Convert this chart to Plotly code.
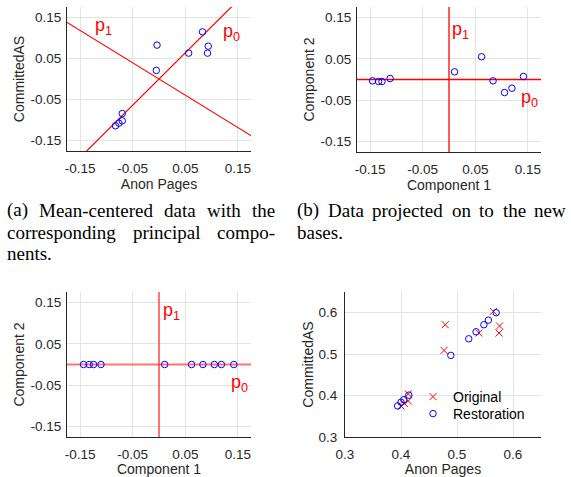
import plotly.graph_objects as go

W, H = 571, 477

# ---------------- data ----------------
# (a) mean-centered data
a_anon = [0.0827, -0.0038, 0.0564, 0.0936, 0.0923, -0.0051, -0.0699, -0.0699, -0.0763, -0.0827]
a_comm = [0.1145, 0.0823, 0.0629, 0.0798, 0.0629, 0.0210, -0.0839, -0.1016, -0.1073, -0.1137]
# principal component directions
pc0 = [0.618, 0.786]
pc1 = [-0.786, 0.618]
line_t = [-0.5, 0.5]

# (b) data projected on the new bases
b_comp1 = [-0.1455, -0.1340, -0.1275, -0.1120, 0.0106, 0.0620, 0.0838, 0.1056, 0.1197, 0.1416]
b_comp2 = [-0.0032, -0.0048, -0.0048, 0.0024, 0.0185, 0.0548, -0.0032, -0.0315, -0.0210, 0.0073]
basis0 = [1.0, 0.0]
basis1 = [0.0, 1.0]

# (c) projection onto first component only
c_comp1 = [-0.1436, -0.1328, -0.1245, -0.1104, 0.0108, 0.0619, 0.0836, 0.1053, 0.1187, 0.1423]
c_comp2 = [0, 0, 0, 0, 0, 0, 0, 0, 0, 0]

# (d) original vs restoration
d_orig_anon = [0.565, 0.479, 0.539, 0.576, 0.575, 0.477, 0.413, 0.413, 0.406, 0.400]
d_orig_comm = [0.603, 0.571, 0.551, 0.568, 0.551, 0.509, 0.404, 0.387, 0.381, 0.375]
d_rest_anon = [0.394, 0.400, 0.405, 0.414, 0.489, 0.521, 0.534, 0.548, 0.556, 0.570]
d_rest_comm = [0.375, 0.384, 0.390, 0.401, 0.497, 0.537, 0.554, 0.571, 0.582, 0.600]

pca_ticks = [-0.15, -0.05, 0.05, 0.15]
pca_ticktext = ["-0.15", "-0.05", "0.05", "0.15"]
d_ticks = [0.3, 0.4, 0.5, 0.6]
d_ticktext = ["0.3", "0.4", "0.5", "0.6"]

caption_a = [["(a)", "Mean-centered", "data", "with", "the"],
             ["corresponding", "principal", "compo-"],
             ["nents."]]
caption_b = [["(b)", "Data", "projected", "on", "to", "the", "new"],
             ["bases."]]

# ---------------- styling ----------------
TXT = "#262626"
GRID = "#e3e3e3"
SANS = "Liberation Sans, Arial, sans-serif"
SERIF = "Liberation Serif, Times New Roman, serif"
BLUE = "#0000ff"
RED = "rgb(255,0,0)"


def px_x(p):
    return p / W


def px_y(p):
    return 1 - p / H


fig = go.Figure()


def seg(vec, t):
    return [ti * vec[0] for ti in t], [ti * vec[1] for ti in t]


def add_line(vec, ax, color, width):
    xs, ys = seg(vec, line_t)
    fig.add_trace(go.Scatter(x=xs, y=ys, mode="lines", line=dict(color=color, width=width),
                             xaxis="x" + ax, yaxis="y" + ax, showlegend=False, hoverinfo="skip"))


def circles(x, y, ax, name=None, legend=None):
    fig.add_trace(go.Scatter(x=x, y=y, mode="markers", name=name, showlegend=legend is not None,
                             legend=legend if legend else "legend",
                             marker=dict(symbol="circle-open", size=6.5, color=BLUE,
                                         line=dict(width=1, color=BLUE)),
                             xaxis="x" + ax, yaxis="y" + ax, hoverinfo="skip"))


# (a)
add_line(pc1, "", RED, 1.2)
add_line(pc0, "", RED, 1.2)
circles(a_anon, a_comm, "")
# (b)
add_line(basis1, "2", RED, 1.3)
add_line(basis0, "2", RED, 1.4)
circles(b_comp1, b_comp2, "2")
# (c)
add_line(basis0, "3", "rgba(255,40,40,0.65)", 2)
add_line(basis1, "3", "rgba(255,40,40,0.65)", 2)
circles(c_comp1, c_comp2, "3")
# (d)
fig.add_trace(go.Scatter(x=d_orig_anon, y=d_orig_comm, mode="markers", name="Original",
                         legend="legend",
                         marker=dict(symbol="x-thin-open", size=7, color=RED,
                                     line=dict(width=1, color=RED)),
                         xaxis="x4", yaxis="y4", hoverinfo="skip"))
circles(d_rest_anon, d_rest_comm, "4", name="Restoration", legend="legend2")


def axis(domain, rng, ticks, ticktext, title, standoff, anchor, lblstand):
    return dict(domain=domain, range=rng, tickvals=ticks, ticktext=ticktext,
                showgrid=True, gridcolor=GRID, gridwidth=1, zeroline=False,
                showline=True, linecolor=TXT, linewidth=1, mirror=False, ticks="",
                showspikes=False,
                tickfont=dict(family=SANS, size=13.5, color=TXT),
                ticklabelstandoff=lblstand,
                title=dict(text=title, font=dict(family=SANS, size=14, color=TXT), standoff=standoff),
                anchor=anchor, automargin=False, fixedrange=True)


R = [-0.175, 0.175]
RD = [0.3, 0.65]
dom = {
    "a": ([px_x(67), px_x(251)], [px_y(151), px_y(7)]),
    "b": ([px_x(357), px_x(541)], [px_y(152), px_y(7)]),
    "c": ([px_x(67), px_x(251)], [px_y(437), px_y(292)]),
    "d": ([px_x(345), px_x(541)], [px_y(437), px_y(292)]),
}

leg_common = dict(xanchor="left", yanchor="middle", bgcolor="rgba(0,0,0,0)", borderwidth=0,
                  font=dict(family=SANS, size=14, color="#000000"), itemwidth=30)

fig.update_layout(
    width=W, height=H, margin=dict(l=0, r=0, t=0, b=0),
    paper_bgcolor="white", plot_bgcolor="white",
    hovermode=False,
    xaxis=axis(dom["a"][0], R, pca_ticks, pca_ticktext, "Anon Pages", 2, "y", 5),
    yaxis=axis(dom["a"][1], R, pca_ticks, pca_ticktext, "CommittedAS", 2, "x", 2),
    xaxis2=axis(dom["b"][0], R, pca_ticks, pca_ticktext, "Component 1", 2, "y2", 5),
    yaxis2=axis(dom["b"][1], R, pca_ticks, pca_ticktext, "Component 2", 2, "x2", 2),
    xaxis3=axis(dom["c"][0], R, pca_ticks, pca_ticktext, "Component 1", 2, "y3", 5),
    yaxis3=axis(dom["c"][1], R, pca_ticks, pca_ticktext, "Component 2", 2, "x3", 2),
    xaxis4=axis(dom["d"][0], RD, d_ticks, d_ticktext, "Anon Pages", 2, "y4", 5),
    yaxis4=axis(dom["d"][1], RD, d_ticks, d_ticktext, "CommittedAS", 1, "x4", 4),
    showlegend=True,
    legend=dict(x=px_x(413), y=px_y(397), **leg_common),
    legend2=dict(x=px_x(413), y=px_y(414), **leg_common),
)

annots = []


def plabel(text_sub, x, y, xr, yr):
    annots.append(dict(text="p<sub>%s</sub>" % text_sub, x=x, y=y, xref=xr, yref=yr,
                       xanchor="left", yanchor="middle", showarrow=False,
                       font=dict(family=SANS, size=18, color=RED), borderpad=0, borderwidth=0))


plabel("1", -0.1212, 0.128, "x", "y")
plabel("0", 0.1212, 0.112, "x", "y")
plabel("1", 0.0052, 0.118, "x2", "y2")
plabel("0", 0.1365, -0.045, "x2", "y2")
plabel("1", 0.0077, 0.128, "x3", "y3")
plabel("0", 0.1365, -0.046, "x3", "y3")

# left edges of words (px); last word of a justified line is right-aligned to the right edge
cap_a_x = [[7, 39, 164, 207, 275], [7, 133, 275], [7]]
cap_b_x = [[297, 328, 372, 452, 479, 503, 566], [297]]
cap_a_just = [True, True, False]
cap_b_just = [True, False]
cap_y = [210, 232, 254]


def caption(words, xs, just):
    for li, (line, lxs) in enumerate(zip(words, xs)):
        for wi, (w, xp) in enumerate(zip(line, lxs)):
            last = just[li] and wi == len(line) - 1
            annots.append(dict(text=w, x=px_x(xp), y=px_y(cap_y[li]), xref="paper", yref="paper",
                               xanchor="right" if last else "left", yanchor="middle", showarrow=False,
                               font=dict(family=SERIF, size=19, color="#000000"),
                               borderpad=0, borderwidth=0))


caption(caption_a, cap_a_x, cap_a_just)
caption(caption_b, cap_b_x, cap_b_just)

fig.update_layout(annotations=annots)
fig.write_html("out.html")
